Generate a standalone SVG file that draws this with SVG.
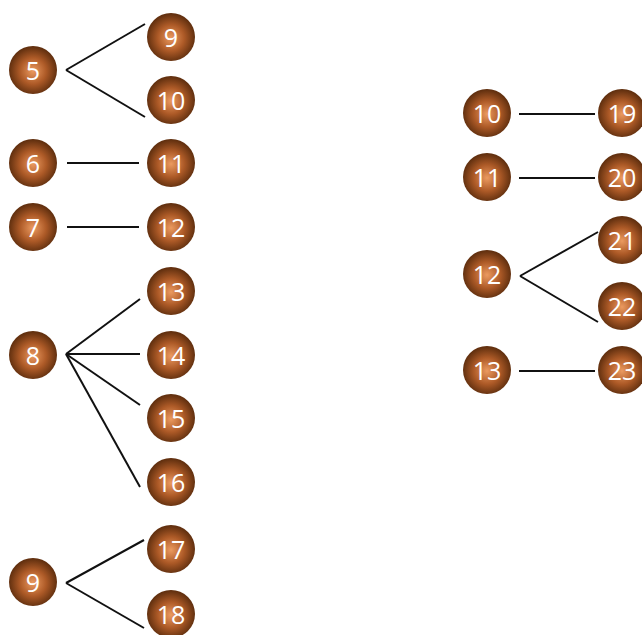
<svg xmlns="http://www.w3.org/2000/svg" width="642" height="635" viewBox="0 0 642 635">
<defs>
<radialGradient id="g" cx="50%" cy="52%" r="50%">
<stop offset="0" stop-color="#eb9a60"/>
<stop offset="0.55" stop-color="#ad5a27"/>
<stop offset="1" stop-color="#62300f"/>
</radialGradient>
</defs>
<style>
.n circle{fill:url(#g)}
.n text{fill:#fff;font-family:"Open Sans","Liberation Sans",sans-serif;font-size:25px;text-anchor:middle;dominant-baseline:central}
.c line{stroke:#111;stroke-width:2;fill:none}
</style>
<rect width="642" height="635" fill="#fff"/>
<g class="c">
<line x1="66" y1="70" x2="145" y2="24"/>
<line x1="66" y1="70" x2="145" y2="117"/>
<line x1="67" y1="163" x2="139" y2="163"/>
<line x1="67" y1="227" x2="139" y2="227"/>
<line x1="66" y1="354" x2="140" y2="299"/>
<line x1="66" y1="354" x2="140" y2="354"/>
<line x1="66" y1="354" x2="140" y2="405"/>
<line x1="66" y1="354" x2="140" y2="487"/>
<line x1="66" y1="583" x2="144" y2="540"/>
<line x1="66" y1="583" x2="144" y2="628"/>
<line x1="519" y1="114" x2="595" y2="114"/>
<line x1="519" y1="178" x2="595" y2="178"/>
<line x1="520" y1="276" x2="598" y2="232"/>
<line x1="520" y1="276" x2="598" y2="322"/>
<line x1="519" y1="371" x2="595" y2="371"/>
</g>
<g id="L5" class="n"><circle cx="33" cy="70" r="24"/><text x="33" y="70">5</text></g>
<g id="L9" class="n"><circle cx="171" cy="37" r="24"/><text x="171" y="37">9</text></g>
<g id="L10" class="n"><circle cx="171" cy="100" r="24"/><text x="171" y="100">10</text></g>
<g id="L6" class="n"><circle cx="33" cy="163" r="24"/><text x="33" y="163">6</text></g>
<g id="L11" class="n"><circle cx="171" cy="163" r="24"/><text x="171" y="163">11</text></g>
<g id="L7" class="n"><circle cx="33" cy="227" r="24"/><text x="33" y="227">7</text></g>
<g id="L12" class="n"><circle cx="171" cy="227" r="24"/><text x="171" y="227">12</text></g>
<g id="L8" class="n"><circle cx="33" cy="355" r="24"/><text x="33" y="355">8</text></g>
<g id="L13" class="n"><circle cx="171" cy="291" r="24"/><text x="171" y="291">13</text></g>
<g id="L14" class="n"><circle cx="171" cy="355" r="24"/><text x="171" y="355">14</text></g>
<g id="L15" class="n"><circle cx="171" cy="418" r="24"/><text x="171" y="418">15</text></g>
<g id="L16" class="n"><circle cx="171" cy="482" r="24"/><text x="171" y="482">16</text></g>
<g id="L9b" class="n"><circle cx="33" cy="582" r="24"/><text x="33" y="582">9</text></g>
<g id="L17" class="n"><circle cx="171" cy="549" r="24"/><text x="171" y="549">17</text></g>
<g id="L18" class="n"><circle cx="171" cy="614" r="24"/><text x="171" y="614">18</text></g>
<g id="R10" class="n"><circle cx="487" cy="113" r="24"/><text x="487" y="113">10</text></g>
<g id="R19" class="n"><circle cx="622" cy="113" r="24"/><text x="622" y="113">19</text></g>
<g id="R11" class="n"><circle cx="487" cy="177" r="24"/><text x="487" y="177">11</text></g>
<g id="R20" class="n"><circle cx="622" cy="177" r="24"/><text x="622" y="177">20</text></g>
<g id="R12" class="n"><circle cx="487" cy="274" r="24"/><text x="487" y="274">12</text></g>
<g id="R21" class="n"><circle cx="622" cy="240" r="24"/><text x="622" y="240">21</text></g>
<g id="R22" class="n"><circle cx="622" cy="306" r="24"/><text x="622" y="306">22</text></g>
<g id="R13" class="n"><circle cx="487" cy="370" r="24"/><text x="487" y="370">13</text></g>
<g id="R23" class="n"><circle cx="622" cy="370" r="24"/><text x="622" y="370">23</text></g>
</svg>
